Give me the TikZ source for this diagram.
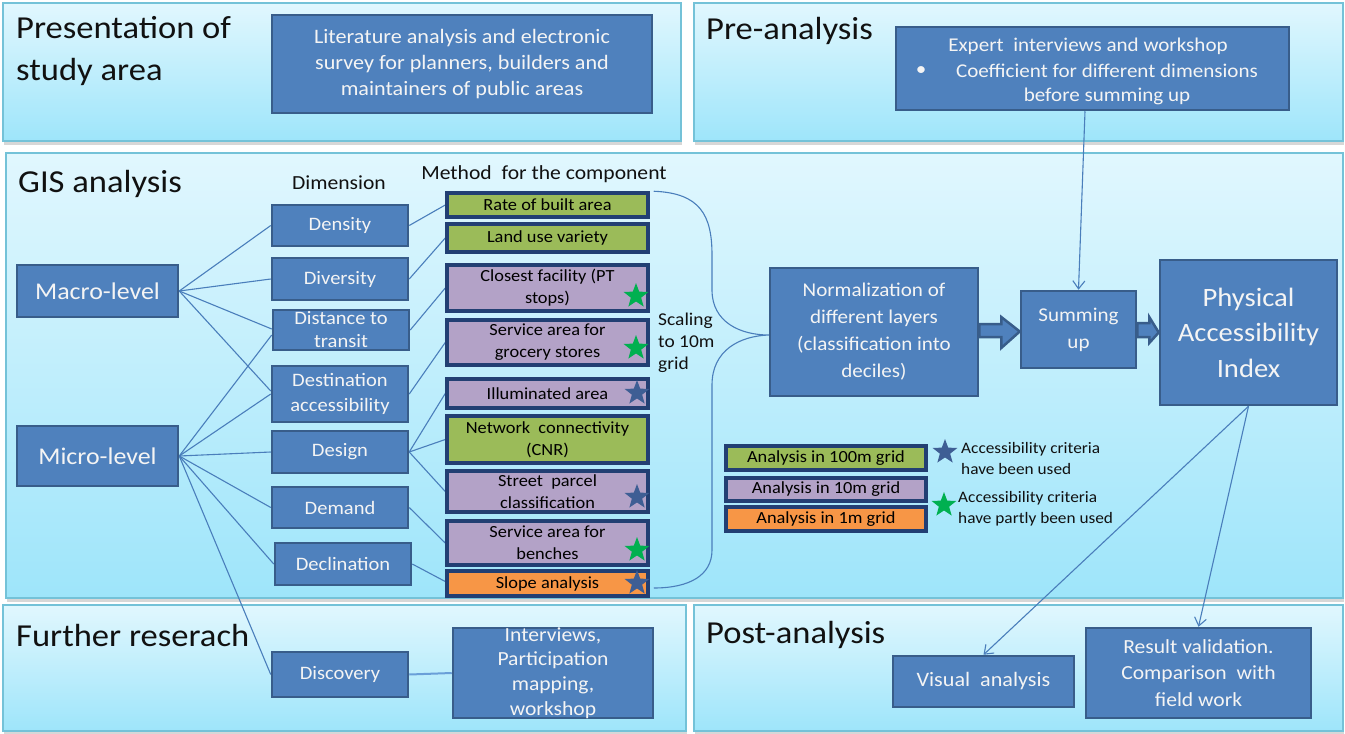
\documentclass[tikz,border=0pt]{standalone}
\usepackage{fontspec}
\setmainfont{Carlito}[FakeStretch=1.08]
\usetikzlibrary{shapes.geometric,arrows.meta,calc}
\definecolor{paneltop}{HTML}{E1F7FE}
\definecolor{panelbot}{HTML}{9EE5FA}
\definecolor{panelborder}{HTML}{74C2D8}
\definecolor{bboxfill}{HTML}{4F81BD}
\definecolor{bboxborder}{HTML}{385D8A}
\definecolor{cborder}{HTML}{223F73}
\definecolor{cgreen}{HTML}{9BBB59}
\definecolor{cpurple}{HTML}{B3A2C7}
\definecolor{corange}{HTML}{F79646}
\definecolor{linecol}{HTML}{4A7EBB}
\definecolor{linelight}{HTML}{6A9FD8}
\definecolor{stargreen}{HTML}{00B050}
\definecolor{starblue}{HTML}{3E5E94}
\definecolor{titlecol}{HTML}{111111}
\definecolor{boxtext}{HTML}{F4F4F4}
\newcommand\myfs[2]{\fontsize{#1pt}{#2pt}\selectfont}
\newcommand\mybox[8]{%
  \node[#1, minimum width=#5, minimum height=#6] (#2) at (#3,#4) {};
  \node[#7] (#2t) at (#2.center) {#8};}
\pgfdeclarelayer{panels}
\pgfdeclarelayer{lines}
\pgfsetlayers{panels,lines,main}
\begin{document}
\begin{tikzpicture}[x=1pt,y=-1pt,
  panel/.style={draw=panelborder, line width=1.5pt, top color=paneltop, bottom color=panelbot},
  pshadow/.style={fill=black!35, opacity=0.45},
  bbox/.style={draw=bboxborder, fill=bboxfill, line width=2.5pt, inner sep=0pt},
  gbox/.style={draw=cborder, fill=cgreen, line width=3.5pt, inner sep=0pt},
  pbox/.style={draw=cborder, fill=cpurple, line width=3.5pt, inner sep=0pt},
  obox/.style={draw=cborder, fill=corange, line width=3.5pt, inner sep=0pt},
  wtxt/.style={text=boxtext, align=center, inner sep=0pt},
  dtxt/.style={wtxt, font=\myfs{19}{23}},
  ctxt/.style={text=black, align=center, inner sep=0pt, font=\myfs{17}{22}},
  title/.style={text=titlecol, align=left, inner sep=0pt, anchor=west, font=\myfs{32}{42}},
  head/.style={text=titlecol, inner sep=0pt, font=\myfs{20}{23}},
  conn/.style={draw=linecol, line width=1.1pt},
  connl/.style={draw=linelight, line width=2pt},
  arr/.style={conn, -{Straight Barb[length=8pt,width=12pt,line width=1.1pt]}},
  blockarr/.style={fill=bboxfill, draw=bboxborder, line width=2.5pt, line join=miter},
  starg/.style={star, star points=5, star point ratio=2.4, fill=stargreen, inner sep=0pt, minimum size=26pt},
  starb/.style={star, star points=5, star point ratio=2.4, fill=starblue, inner sep=0pt, minimum size=26pt},
  ltxt/.style={text=titlecol, align=left, anchor=west, inner sep=0pt, font=\myfs{16}{21}}
]
\useasboundingbox (0,0) rectangle (1345,734);

% panel shadows and panels
\begin{pgfonlayer}{panels}
\foreach \a/\b/\c/\d in {3/3/681/141, 694/3/1343/141, 6/153/1343/598, 3/605/686/731, 694/605/1343/731} {
  \fill[pshadow] (\a+1,\b+4) rectangle (\c+1,\d+4);
}
\foreach \a/\b/\c/\d in {3/3/681/141, 694/3/1343/141, 6/153/1343/598, 3/605/686/731, 694/605/1343/731} {
  \draw[panel] (\a,\b) rectangle (\c,\d);
}
\end{pgfonlayer}

% titles
\node[title] (tpres) at (16,51) {Presentation of\\study area};
\node[title] (tpre) at (706,31) {Pre-analysis};
\node[title] (tgis) at (18,184) {GIS analysis};
\node[title] (tfur) at (16,635) {Further reserach};
\node[title] (tpost) at (706,635) {Post-analysis};
\node[head] (hdim) at (339,183) {Dimension};
\node[head] (hmeth) at (544,174) {Method\hspace{5pt} for the component};
\node[text=titlecol, anchor=west, align=left, inner sep=0pt, font=\myfs{18}{22}] (scal) at (658,343) {Scaling\\to 10m\\grid};

% top boxes
\mybox{bbox}{lit}{462}{64}{380}{98}{wtxt,font=\myfs{20.5}{26}}{Literature analysis and electronic\\survey for planners, builders and\\maintainers of public areas}
\node[bbox, minimum width=393, minimum height=83] (expert) at (1092.5,68.5) {};
\node[wtxt, font=\myfs{19.5}{25}] (ex1) at (1088,46) {Expert\hspace{5pt} interviews and workshop};
\node[wtxt, font=\myfs{19.5}{25}] (ex2) at (921,71) {•};
\node[wtxt, font=\myfs{19.5}{25}] (ex3) at (1107,71) {Coefficient for different dimensions};
\node[wtxt, font=\myfs{19.5}{25}] (ex4) at (1107,96) {before summing up};

% levels
\mybox{bbox}{macro}{97.5}{291}{161}{52}{wtxt,font=\myfs{24}{28}}{Macro-level}
\mybox{bbox}{micro}{97.5}{456}{161}{60}{wtxt,font=\myfs{24}{28}}{Micro-level}

% dimensions
\mybox{bbox}{density}{340}{225.5}{136}{41}{dtxt}{Density}
\mybox{bbox}{diversity}{340}{279}{136}{42}{dtxt}{Diversity}
\mybox{bbox}{dist}{341}{330}{136}{40}{dtxt}{Distance to\\transit}
\mybox{bbox}{dest}{340}{394}{136}{56}{dtxt,font=\myfs{19}{25}}{Destination\\accessibility}
\mybox{bbox}{design}{340}{452}{136}{42}{dtxt}{Design}
\mybox{bbox}{demand}{340}{507.5}{136}{41}{dtxt}{Demand}
\mybox{bbox}{decl}{343}{564}{136}{42}{dtxt}{Declination}
\mybox{bbox}{disc}{340}{674.5}{136}{45}{dtxt}{Discovery}

% components
\mybox{gbox}{rate}{547.5}{205}{201}{24}{ctxt}{Rate of built area}
\mybox{gbox}{land}{547.5}{238}{201}{28}{ctxt}{Land use variety}
\mybox{pbox}{closest}{547.5}{288}{201}{46}{ctxt}{Closest facility (PT\\stops)}
\mybox{pbox}{grocery}{547.5}{342.5}{201}{45}{ctxt}{Service area for\\grocery stores}
\mybox{pbox}{illum}{547.5}{393.5}{201}{29}{ctxt}{Illuminated area}
\mybox{gbox}{network}{547.5}{439.5}{201}{47}{ctxt}{Network\hspace{4pt} connectivity\\(CNR)}
\mybox{pbox}{street}{547.5}{491.5}{201}{41}{ctxt}{Street\hspace{4pt} parcel\\classification}
\mybox{pbox}{benches}{547.5}{543}{201}{44}{ctxt}{Service area for\\benches}
\mybox{obox}{slope}{547.5}{583.5}{201}{25}{ctxt}{Slope analysis}

% stars on components
\node[starg] (st1) at (636,296) {};
\node[starg] (st2) at (636,348) {};
\node[starb] (st3) at (637,393) {};
\node[starb] (st4) at (637,497) {};
\node[starg] (st5) at (637,550) {};
\node[starb] (st6) at (637,583) {};

% right side
\mybox{bbox}{norm}{874}{332}{208}{128}{wtxt,font=\myfs{19.5}{27}}{Normalization of\\different layers\\(classification into\\deciles)}
\mybox{bbox}{sum}{1078.5}{329.5}{115}{77}{wtxt,font=\myfs{19.5}{27}}{Summing\\up}
\mybox{bbox}{pai}{1248.5}{332.5}{177}{145}{wtxt,font=\myfs{26.5}{35.5}}{Physical\\Accessibility\\Index}

% legend
\mybox{gbox}{leg1}{826}{458}{200}{24}{ctxt}{Analysis in 100m grid}
\mybox{pbox}{leg2}{826}{489.5}{200}{23}{ctxt}{Analysis in 10m grid}
\mybox{obox}{leg3}{826}{519}{200}{24}{ctxt}{Analysis in 1m grid}
\node[starb] (lst1) at (945,452) {};
\node[starg] (lst2) at (944,505) {};
\node[ltxt] (lt1) at (961,458) {Accessibility criteria\\have been used};
\node[ltxt] (lt2) at (958,509) {Accessibility criteria\\have partly been used};

% bottom boxes
\mybox{bbox}{intv}{553}{673}{200}{90}{wtxt,font=\myfs{20}{24.7}}{Interviews,\\Participation\\mapping,\\workshop}
\mybox{bbox}{visual}{983.5}{681.5}{181}{51}{wtxt,font=\myfs{20.5}{26}}{Visual\hspace{5pt} analysis}
\mybox{bbox}{result}{1198.5}{673}{225}{90}{wtxt,font=\myfs{20}{26.5}}{Result validation.\\Comparison\hspace{5pt} with\\field work}

% connectors (behind boxes)
\begin{pgfonlayer}{lines}
\draw[conn] (macro.east) -- (density.west);
\draw[conn] (macro.east) -- (diversity.west);
\draw[conn] (macro.east) -- ([yshift=1pt]dist.west);
\draw[conn] (macro.east) -- ([yshift=3pt]dest.west);
\draw[conn] (micro.east) -- ([yshift=-5pt]dist.west);
\draw[conn] (micro.east) -- (dest.west);
\draw[conn] (micro.east) -- (design.west);
\draw[conn] (micro.east) -- (demand.west);
\draw[conn] (micro.east) -- (decl.west);
\draw[conn] (micro.east) -- (disc.west);
\draw[conn] (density.east) -- (rate.west);
\draw[conn] (diversity.east) -- (land.west);
\draw[conn] (dist.east) -- (closest.west);
\draw[conn] (dest.east) -- (grocery.west);
\draw[conn] (design.east) -- (illum.west);
\draw[conn] (design.east) -- (network.west);
\draw[conn] (design.east) -- (street.west);
\draw[conn] (demand.east) -- (benches.west);
\draw[conn] (decl.east) -- ([yshift=2pt]slope.west);
\draw[connl] (disc.east) -- (intv.west);
% brace
\draw[conn] ([xshift=4pt]rate.north east) .. controls (700,193) and (712,215) .. (712,255)
  -- (712,290) .. controls (712,322) and (740,335) .. ([yshift=-3pt]norm.west)
  .. controls (740,336) and (712,350) .. (712,385)
  -- (712,550) .. controls (712,575) and (690,588) .. ([xshift=4pt,yshift=-4.5pt]slope.east);
% block arrows
\draw[blockarr] ($(norm.east)+(0,-8)$) -- ++(22,0) -- ++(0,-7) -- ($(sum.west)+(0,2)$)
  -- ($(norm.east)+(22,16)$) -- ++(0,-11) -- ($(norm.east)+(0,5)$) -- cycle;
\draw[blockarr] ($(sum.east)+(0,-6.5)$) -- ++(12,0) -- ++(0,-6) -- (pai.west)
  -- ($(sum.east)+(12,13.5)$) -- ++(0,-6) -- ($(sum.east)+(0,7.5)$) -- cycle;
\end{pgfonlayer}

% arrows on top
\draw[arr] ([xshift=-7.5pt]expert.south) -- (sum.north);
\draw[arr] (pai.south) -- (visual.north);
\draw[arr] (pai.south) -- (result.north);
\end{tikzpicture}
\end{document}
